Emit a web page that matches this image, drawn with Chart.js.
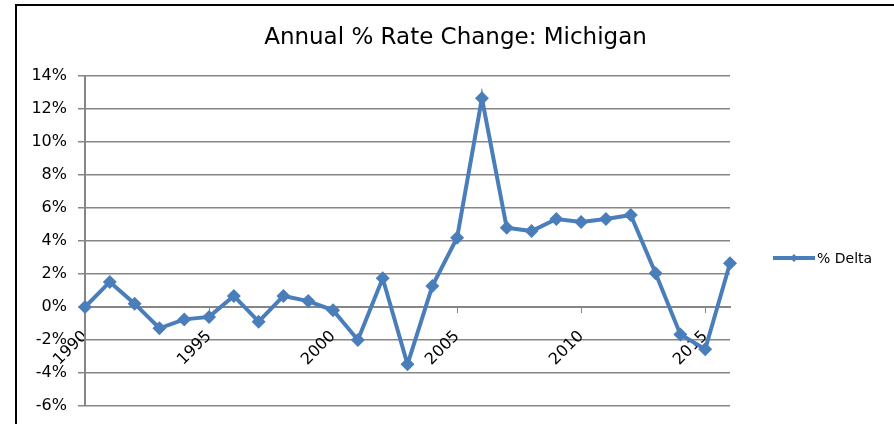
<!DOCTYPE html>
<html>
<head>
<meta charset="utf-8">
<script src="https://cdn.jsdelivr.net/npm/chart.js@4"></script>
<style>
  html, body { margin: 0; padding: 0; background: #fff; overflow: hidden; }
  #frame { position: absolute; left: 15px; top: 4px; width: 879px; height: 420px;
           border-left: 2px solid #000; border-top: 2px solid #000; }
  #wrap { position: absolute; left: 0; top: 0; width: 877px; height: 418px; }
</style>
</head>
<body>
<div id="frame"><div id="wrap"><canvas id="lineChart"></canvas></div></div>
<script>
var years = [1990, 1991, 1992, 1993, 1994, 1995, 1996, 1997, 1998, 1999,
             2000, 2001, 2002, 2003, 2004, 2005, 2006, 2007, 2008, 2009,
             2010, 2011, 2012, 2013, 2014, 2015, 2016];
var pctDelta = [0, 1.52, 0.2, -1.29, -0.75, -0.6, 0.67, -0.89, 0.67, 0.36,
                -0.2, -2.0, 1.74, -3.47, 1.27, 4.2, 12.65, 4.8, 4.6, 5.33,
                5.15, 5.33, 5.58, 2.04, -1.66, -2.56, 2.65];
var seriesName = "% Delta";
var chartTitle = "Annual % Rate Change: Michigan";

var lineColor = "#4a7ebb";
var gridColor = "#868686";
var fontFamily = "'DejaVu Sans', sans-serif";

// title and legend drawn by hand so the title centres on the whole frame
var textPlugin = {
  id: "titleAndLegend",
  afterDraw: function (chart) {
    var ctx = chart.ctx;
    ctx.save();
    ctx.fillStyle = "#000";
    ctx.font = "23px " + fontFamily;
    ctx.textBaseline = "middle";
    ctx.textAlign = "center";
    ctx.fillText(chartTitle, chart.width / 2, 32);

    var y = 252;
    ctx.strokeStyle = lineColor;
    ctx.lineWidth = 4;
    ctx.beginPath();
    ctx.moveTo(756, y);
    ctx.lineTo(798, y);
    ctx.stroke();
    ctx.fillStyle = lineColor;
    ctx.beginPath();
    ctx.moveTo(777, y - 4);
    ctx.lineTo(781, y);
    ctx.lineTo(777, y + 4);
    ctx.lineTo(773, y);
    ctx.closePath();
    ctx.fill();
    ctx.fillStyle = "#000";
    ctx.font = "14px " + fontFamily;
    ctx.textAlign = "left";
    ctx.fillText(seriesName, 800, y + 1);
    ctx.restore();
  }
};

var ctx = document.getElementById("lineChart").getContext("2d");
var lineChart = new Chart(ctx, {
  type: "line",
  data: {
    labels: years,
    datasets: [
      {
        label: seriesName,
        data: pctDelta,
        borderColor: lineColor,
        backgroundColor: lineColor,
        borderWidth: 4,
        pointStyle: "rectRot",
        pointRadius: 7,
        pointBorderWidth: 0,
        tension: 0,
      },
    ],
  },
  options: {
    responsive: true,
    maintainAspectRatio: false,
    animation: false,
    layout: { padding: { left: 0, right: 164, top: 70, bottom: 18 } },
    plugins: {
      legend: { display: false },
      tooltip: { enabled: false },
      title: { display: false },
    },
    scales: {
      x: {
        position: { y: 0 },
        offset: false,
        border: { color: gridColor, width: 2 },
        grid: {
          drawOnChartArea: false,
          drawTicks: true,
          tickLength: 5,
          color: function (c) {
            return years[c.index] % 5 === 0 && c.index > 0 ? gridColor : "rgba(0,0,0,0)";
          },
        },
        ticks: {
          autoSkip: false,
          minRotation: 45,
          maxRotation: 45,
          color: "#000",
          padding: 15,
          font: { family: fontFamily, size: 16 },
          callback: function (v, i) {
            return years[i] % 5 === 0 ? String(years[i]) : "";
          },
        },
      },
      y: {
        min: -6,
        max: 14,
        border: { color: gridColor, width: 2 },
        grid: { color: gridColor, lineWidth: 1.5, tickLength: 7 },
        ticks: {
          stepSize: 2,
          color: "#000",
          padding: 11,
          font: { family: fontFamily, size: 16 },
          callback: function (v) { return v + "%"; },
        },
        afterFit: function (scale) {
          scale.width = 68;
          scale.paddingBottom = 0;
        },
      },
    },
  },
  plugins: [textPlugin],
});
</script>
</body>
</html>
